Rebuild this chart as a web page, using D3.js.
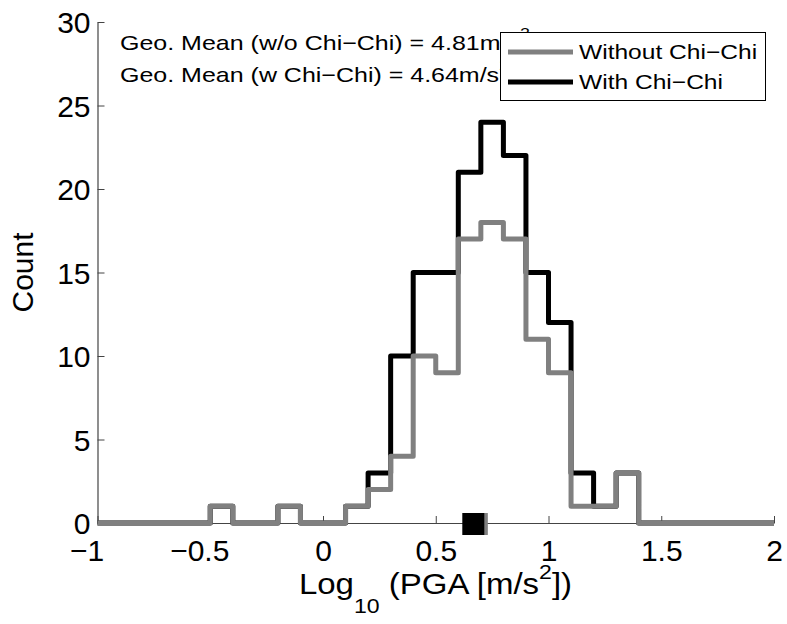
<!DOCTYPE html>
<html>
<head>
<meta charset="utf-8">
<script src="https://cdn.jsdelivr.net/npm/d3@7"></script>
<style>
  body { margin: 0; background: #fff; }
  text { font-family: "Liberation Sans", Arial, Helvetica, sans-serif; fill: #000; }
</style>
</head>
<body>
<svg id="chart" width="787" height="624"></svg>
<script>
// Histogram bin edges of log10(PGA), 0.1 wide, from -1 to 2
const binEdges = [-1.0, -0.9, -0.8, -0.7, -0.6, -0.5, -0.4, -0.3, -0.2, -0.1,
                  0.0, 0.1, 0.2, 0.3, 0.4, 0.5, 0.6, 0.7, 0.8, 0.9,
                  1.0, 1.1, 1.2, 1.3, 1.4, 1.5, 1.6, 1.7, 1.8, 1.9, 2.0];
// Counts per bin, records without the Chi-Chi event
const countsWithout = [0, 0, 0, 0, 0, 1, 0, 0, 1, 0,
                       0, 1, 2, 4, 10, 9, 17, 18, 17, 11,
                       9, 1, 1, 3, 0, 0, 0, 0, 0, 0];
// Counts per bin, records including the Chi-Chi event
const countsWith = [0, 0, 0, 0, 0, 1, 0, 0, 1, 0,
                    0, 1, 3, 10, 15, 15, 21, 24, 22, 15,
                    12, 3, 1, 3, 0, 0, 0, 0, 0, 0];
// Geometric means of PGA [m/s^2]: without, with Chi-Chi
const geoMeans = [4.81, 4.64];
const seriesNames = ["Without Chi\u2212Chi", "With Chi\u2212Chi"];
const meanLabels = ["Geo. Mean (w/o Chi\u2212Chi) = ", "Geo. Mean (w Chi\u2212Chi) = "];
const seriesColors = ["#808080", "#000000"];
const xTicks = [-1, -0.5, 0, 0.5, 1, 1.5, 2];
const yTicks = [0, 5, 10, 15, 20, 25, 30];

const svg = d3.select("#chart");
const x = d3.scaleLinear().domain([-1, 2]).range([97.5, 774]);
const y = d3.scaleLinear().domain([0, 30]).range([523, 22]);
const fmt = d3.format("~g");

// Axes: inward ticks, left and bottom only
const gx = svg.append("g").attr("transform", `translate(0,${y(0)})`)
  .call(d3.axisBottom(x).tickValues(xTicks).tickSizeInner(-7).tickSizeOuter(0).tickFormat(fmt));
const gy = svg.append("g").attr("transform", `translate(${x(-1)},0)`)
  .call(d3.axisLeft(y).tickValues(yTicks).tickSizeInner(-7).tickSizeOuter(0).tickFormat(fmt));
[gx, gy].forEach(g => {
  g.select(".domain").attr("stroke", "#444").attr("stroke-width", 1.2);
  g.selectAll(".tick line").attr("stroke", "#444").attr("stroke-width", 1);
  g.selectAll(".tick text").attr("font-size", 30).attr("font-family", null).attr("fill", "#000");
});
gx.selectAll(".tick text").attr("y", 17).attr("dy", "0.71em")
  .attr("dx", d => d < 0 ? -11 : 0);
gy.selectAll(".tick text").attr("x", -7).attr("dy", "0.35em");

// Histogram outlines as stairs
const stairs = d3.line()
  .x(d => x(d[0])).y(d => y(d[1]))
  .curve(d3.curveStepAfter);
const toPoints = counts => binEdges.map((e, i) => [e, counts[Math.min(i, counts.length - 1)]]);

[countsWith, countsWithout].forEach((counts, k) => {
  svg.append("path")
    .attr("d", stairs(toPoints(counts)))
    .attr("fill", "none")
    .attr("stroke", k === 0 ? seriesColors[1] : seriesColors[0])
    .attr("stroke-width", 5)
    .attr("stroke-linejoin", "round");
});

// Geometric mean markers on the baseline
const sq = 22;
[0, 1].forEach(i => {
  svg.append("rect")
    .attr("x", x(Math.log10(geoMeans[i])) - sq / 2)
    .attr("y", y(0) - sq / 2 + 1)
    .attr("width", sq).attr("height", sq)
    .attr("fill", seriesColors[i]);
});

// Geometric mean annotations
meanLabels.forEach((lab, i) => {
  const t = svg.append("g").attr("transform", `translate(120,${50 + i * 32}) scale(1.19,1)`)
    .append("text").attr("font-size", 21);
  t.append("tspan").text(lab + geoMeans[i].toFixed(2) + "m/s");
  t.append("tspan").attr("dy", -12).attr("font-size", 15).text("2");
});

// Legend
const lg = svg.append("g");
lg.append("rect").attr("x", 500.5).attr("y", 32.5).attr("width", 265).attr("height", 68)
  .attr("fill", "#fff").attr("stroke", "#000").attr("stroke-width", 1);
seriesNames.forEach((name, i) => {
  const yy = 52 + i * 30;
  lg.append("line").attr("x1", 508).attr("x2", 573).attr("y1", yy).attr("y2", yy)
    .attr("stroke", seriesColors[i]).attr("stroke-width", 5);
  lg.append("g").attr("transform", `translate(579,${yy}) scale(1.17,1)`)
    .append("text").attr("dy", "0.35em").attr("font-size", 21).text(name);
});

// Axis titles
svg.append("text")
  .attr("transform", `translate(33,${(y(0) + y(30)) / 2}) rotate(-90)`)
  .attr("text-anchor", "middle").attr("font-size", 30).text("Count");

const xt = svg.append("g").attr("transform", "translate(435.5,594) scale(1.1,1)")
  .append("text").attr("text-anchor", "middle").attr("font-size", 30);
xt.append("tspan").text("Log");
xt.append("tspan").attr("dy", 19).attr("font-size", 21).text("10");
xt.append("tspan").attr("dy", -19).text(" (PGA [m/s");
xt.append("tspan").attr("dy", -15).attr("font-size", 21).text("2");
xt.append("tspan").attr("dy", 15).text("])");
</script>
</body>
</html>
